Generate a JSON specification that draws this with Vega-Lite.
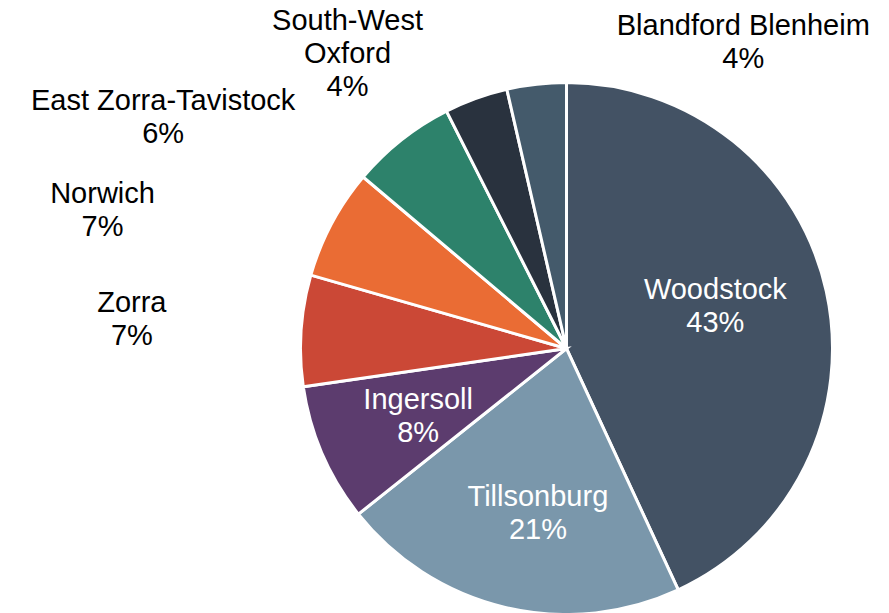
{
  "$schema": "https://vega.github.io/schema/vega-lite/v6.json",
  "width": 645,
  "height": 529,
  "autosize": {"type": "none"},
  "padding": {"left": 244, "top": 84, "right": 0, "bottom": 0},
  "background": "white",
  "config": {"view": {"stroke": null}, "text": {"font": "Liberation Sans", "fontSize": 29, "lineHeight": 33, "align": "center", "baseline": "middle"}},
  "data": {"values": [
    {"name": "Woodstock", "value": 0.431},
    {"name": "Tillsonburg", "value": 0.212},
    {"name": "Ingersoll", "value": 0.084},
    {"name": "Zorra", "value": 0.0675},
    {"name": "Norwich", "value": 0.067},
    {"name": "East Zorra-Tavistock", "value": 0.064},
    {"name": "South-West Oxford", "value": 0.0385},
    {"name": "Blandford Blenheim", "value": 0.036}
  ]},
  "transform": [
    {"calculate": "datum.name === 'South-West Oxford' ? ['South-West', 'Oxford', format(datum.value, '.0%')] : [datum.name, format(datum.value, '.0%')]", "as": "label"}
  ],
  "encoding": {
    "theta": {"field": "value", "type": "quantitative", "stack": true},
    "order": {"field": "value", "type": "quantitative", "sort": "descending"}
  },
  "layer": [
    {
      "mark": {"type": "arc", "outerRadius": 266, "stroke": "white", "strokeWidth": 3},
      "encoding": {
        "color": {
          "field": "name", "type": "nominal", "legend": null,
          "scale": {
            "domain": ["Woodstock", "Tillsonburg", "Ingersoll", "Zorra", "Norwich", "East Zorra-Tavistock", "South-West Oxford", "Blandford Blenheim"],
            "range": ["#435264", "#7a97ab", "#5c3c6e", "#cb4836", "#ea6c34", "#2d826b", "#29323e", "#445a6b"]
          }
        }
      }
    },
    {
      "mark": {"type": "text", "radius": 160, "thetaOffset": -0.1588, "fill": "white"},
      "encoding": {
        "detail": {"field": "name", "type": "nominal"},
        "text": {"condition": {"test": "datum.name === 'Woodstock'", "field": "label"}, "value": ""}
      }
    },
    {
      "mark": {"type": "text", "radius": 151, "thetaOffset": -0.0419, "fill": "white"},
      "encoding": {
        "detail": {"field": "name", "type": "nominal"},
        "text": {"condition": {"test": "datum.name === 'Tillsonburg'", "field": "label"}, "value": ""}
      }
    },
    {
      "mark": {"type": "text", "radius": 157, "thetaOffset": 0.075, "fill": "white"},
      "encoding": {
        "detail": {"field": "name", "type": "nominal"},
        "text": {"condition": {"test": "datum.name === 'Ingersoll'", "field": "label"}, "value": ""}
      }
    },
    {
      "mark": {"type": "text", "radius": 437, "thetaOffset": 0.0363, "fill": "black"},
      "encoding": {
        "detail": {"field": "name", "type": "nominal"},
        "text": {"condition": {"test": "datum.name === 'Zorra'", "field": "label"}, "value": ""}
      }
    },
    {
      "mark": {"type": "text", "radius": 489, "thetaOffset": -0.1688, "fill": "black"},
      "encoding": {
        "detail": {"field": "name", "type": "nominal"},
        "text": {"condition": {"test": "datum.name === 'Norwich'", "field": "label"}, "value": ""}
      }
    },
    {
      "mark": {"type": "text", "radius": 473, "thetaOffset": -0.352, "fill": "black"},
      "encoding": {
        "detail": {"field": "name", "type": "nominal"},
        "text": {"condition": {"test": "datum.name === 'East Zorra-Tavistock'", "field": "label"}, "value": ""}
      }
    },
    {
      "mark": {"type": "text", "radius": 394, "thetaOffset": -0.2421, "fill": "black"},
      "encoding": {
        "detail": {"field": "name", "type": "nominal"},
        "text": {"condition": {"test": "datum.name === 'South-West Oxford'", "field": "label"}, "value": ""}
      }
    },
    {
      "mark": {"type": "text", "radius": 368, "thetaOffset": 0.6142, "fill": "black"},
      "encoding": {
        "detail": {"field": "name", "type": "nominal"},
        "text": {"condition": {"test": "datum.name === 'Blandford Blenheim'", "field": "label"}, "value": ""}
      }
    }
  ]
}
